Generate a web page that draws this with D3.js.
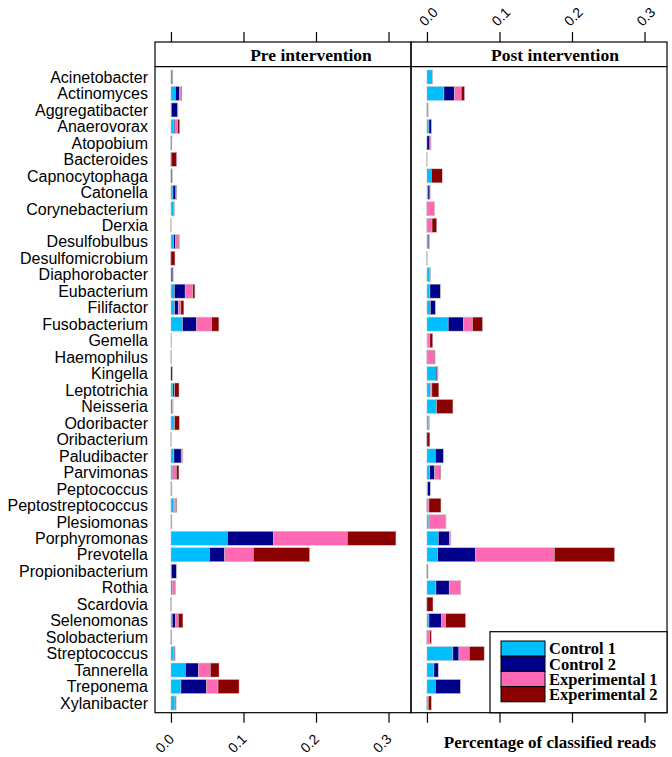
<!DOCTYPE html>
<html><head><meta charset="utf-8">
<script src="https://cdn.jsdelivr.net/npm/d3@7"></script>
<style>body{margin:0;background:#fff}</style>
</head><body>
<svg id="c" width="672" height="757"></svg>
<script>
const categories = ["Acinetobacter","Actinomyces","Aggregatibacter","Anaerovorax","Atopobium","Bacteroides","Capnocytophaga","Catonella","Corynebacterium","Derxia","Desulfobulbus","Desulfomicrobium","Diaphorobacter","Eubacterium","Filifactor","Fusobacterium","Gemella","Haemophilus","Kingella","Leptotrichia","Neisseria","Odoribacter","Oribacterium","Paludibacter","Parvimonas","Peptococcus","Peptostreptococcus","Plesiomonas","Porphyromonas","Prevotella","Propionibacterium","Rothia","Scardovia","Selenomonas","Solobacterium","Streptococcus","Tannerella","Treponema","Xylanibacter"];
const groups = ["Control 1","Control 2","Experimental 1","Experimental 2"];
const panels = ["Pre intervention","Post intervention"];
const tickValues = [0.0, 0.1, 0.2, 0.3];
const tickLabels = ["0.0","0.1","0.2","0.3"];
const colors = ["#00BFFF","#00008B","#FF69B4","#8B0000"];

const pre_control1 = [.0005,.006,.0005,.0037,0,0,0,.0028,.0035,0,.0035,0,.0003,.0046,.005,.016,.0003,0,0,.0028,.0005,.0045,0,.0041,.001,0,.004,0,.0777,.0529,.0005,.0005,0,.0018,0,.0041,.0198,.0138,.0055];
const pre_control2 = [.002,.006,.009,.0018,0,0,.0015,.004,.0009,0,.003,0,.0025,.015,.005,.0193,.0005,.0003,.002,.0023,.0015,.0005,0,.01,.0015,.0012,.0008,.0012,.0634,.0211,.0075,.0015,0,.0046,0,.0014,.0179,.035,.0014];
const pre_exp1 = [0,.002,0,.0037,.0003,.0003,0,.0008,0,0,.004,0,0,.0106,.0037,.0207,0,.0004,0,0,.0008,0,.0003,.0023,.005,0,.002,0,.102,.0395,0,.0045,0,.0037,.0003,0,.0166,.0161,0];
const pre_exp2 = [0,.001,0,.0028,.001,.0075,0,.0006,0,0,.001,.0055,0,.0028,.0041,.0101,0,0,0,.006,0,.0065,0,0,.0035,0,.001,0,.0671,.0777,0,0,.0003,.0064,.0008,0,.012,.029,0];

const post_control1 = [.0075,.0234,0,.0028,0,0,.006,.0014,0,0,.0018,0,.004,.0041,.0046,.0293,.0005,0,.0115,.005,.0128,.0025,0,.0115,.0037,.0009,0,.0028,.0156,.0147,0,.0124,0,.0028,0,.0358,.0096,.0115,0];
const post_control2 = [.0003,.0142,.0008,.0037,.004,0,0,.0028,0,0,.0014,0,.0005,.0147,.0073,.0211,.0005,.0012,.0023,0,.0005,.0005,0,.0115,.0069,.0037,0,0,.0156,.0523,0,.0183,0,.0174,0,.0083,.006,.0348,0];
const post_exp1 = [0,.0096,0,0,.0015,0,0,0,.0105,.007,0,0,0,0,0,.0124,.003,.009,.0014,.0018,0,0,0,0,.0064,0,.0028,.0234,.0018,.1087,.0005,.016,0,.0055,.004,.0142,0,0,.002];
const post_exp2 = [0,.0046,.0008,0,0,0,.0151,0,0,.0065,0,0,0,0,0,.0138,.004,.001,0,.0096,.0225,0,.004,0,.0018,0,.0165,0,0,.083,.001,0,.0083,.0275,.002,.0206,0,0,.004];

const panelData = [
  [pre_control1, pre_control2, pre_exp1, pre_exp2],
  [post_control1, post_control2, post_exp1, post_exp2]
];

const svg = d3.select("#c");
const panelLeft = [155, 411], panelW = 256;
const stripTop = 42, stripBot = 66.7, panelBot = 712.7;
const serif = "'Liberation Serif','DejaVu Serif',serif";
const sans = "'Liberation Sans',Arial,sans-serif";

const y = d3.scaleBand().domain(categories).range([68.76, 711.24]).paddingInner(0.15).paddingOuter(0.075);

svg.append("g").selectAll("text").data(categories).join("text")
  .attr("x", 148).attr("y", d => y(d) + y.bandwidth()/2)
  .attr("dy", "0.36em").attr("text-anchor", "end")
  .attr("font-family", sans).attr("font-size", 16).attr("fill", "#000")
  .text(d => d);

const stripCenters = [311, 555];

panelData.forEach((series, p) => {
  const x0 = panelLeft[p];
  const x = d3.scaleLinear().domain([-0.022, 0.331]).range([x0, x0 + panelW]);
  const g = svg.append("g");

  const rows = categories.map((c, i) => {
    let acc = 0;
    return series.map((s, k) => { const st = acc; acc += s[i]; return {c, k, a: st, b: acc}; });
  }).flat();
  g.selectAll("rect.bar").data(rows).join("rect").attr("class", "bar")
    .attr("x", d => x(d.a)).attr("width", d => Math.max(x(d.b) - x(d.a), 0.05))
    .attr("y", d => y(d.c)).attr("height", y.bandwidth())
    .attr("fill", d => colors[d.k])
    .attr("stroke", "#c8c8c8").attr("stroke-width", 0.5);

  g.append("rect").attr("x", x0).attr("y", stripTop).attr("width", panelW).attr("height", panelBot - stripTop)
    .attr("fill", "none").attr("stroke", "#000").attr("stroke-width", 1.2);
  g.append("line").attr("x1", x0).attr("x2", x0 + panelW).attr("y1", stripBot).attr("y2", stripBot)
    .attr("stroke", "#000").attr("stroke-width", 1.2);
  g.append("text").attr("x", stripCenters[p]).attr("y", 61).attr("text-anchor", "middle")
    .attr("font-family", serif).attr("font-weight", "bold").attr("font-size", 17.5).text(panels[p]);

  const topAxis = d3.axisTop(x).tickValues(tickValues).tickSize(10).tickFormat("");
  const ta = g.append("g").attr("transform", `translate(0,${stripTop})`).call(topAxis);
  ta.select(".domain").remove();
  ta.selectAll("line").attr("stroke", "#000").attr("stroke-width", 1.2);
  const botAxis = d3.axisBottom(x).tickValues(tickValues).tickSize(10).tickFormat("");
  const ba = g.append("g").attr("transform", `translate(0,${panelBot})`).call(botAxis);
  ba.select(".domain").remove();
  ba.selectAll("line").attr("stroke", "#000").attr("stroke-width", 1.2);

  if (p === 0) {
    g.selectAll("text.bt").data(tickValues).join("text").attr("class", "bt")
      .attr("transform", d => `translate(${x(d) + 4},${740}) rotate(-45)`)
      .attr("text-anchor", "end").attr("font-family", sans).attr("font-size", 14)
      .text((d, i) => tickLabels[i]);
  } else {
    g.selectAll("text.tt").data(tickValues).join("text").attr("class", "tt")
      .attr("transform", d => `translate(${x(d) - 2},${27}) rotate(-45)`)
      .attr("text-anchor", "start").attr("font-family", sans).attr("font-size", 14)
      .text((d, i) => tickLabels[i]);
  }
});

const lg = svg.append("g");
lg.append("rect").attr("x", 490).attr("y", 631.7).attr("width", 177).attr("height", panelBot - 631.7)
  .attr("fill", "#fff").attr("stroke", "#000").attr("stroke-width", 1.2);
groups.forEach((gname, i) => {
  const yy = 641 + i * 15.2;
  lg.append("rect").attr("x", 501).attr("y", yy).attr("width", 44).attr("height", 15.2)
    .attr("fill", colors[i]).attr("stroke", "#000").attr("stroke-width", 1);
  lg.append("text").attr("x", 549).attr("y", yy + 7.6).attr("dy", "0.35em")
    .attr("font-family", serif).attr("font-weight", "bold").attr("font-size", 16.5).text(gname);
});

svg.append("text").attr("x", 550).attr("y", 748).attr("text-anchor", "middle")
  .attr("font-family", serif).attr("font-weight", "bold").attr("font-size", 17)
  .text("Percentage of classified reads");
</script>
</body></html>
